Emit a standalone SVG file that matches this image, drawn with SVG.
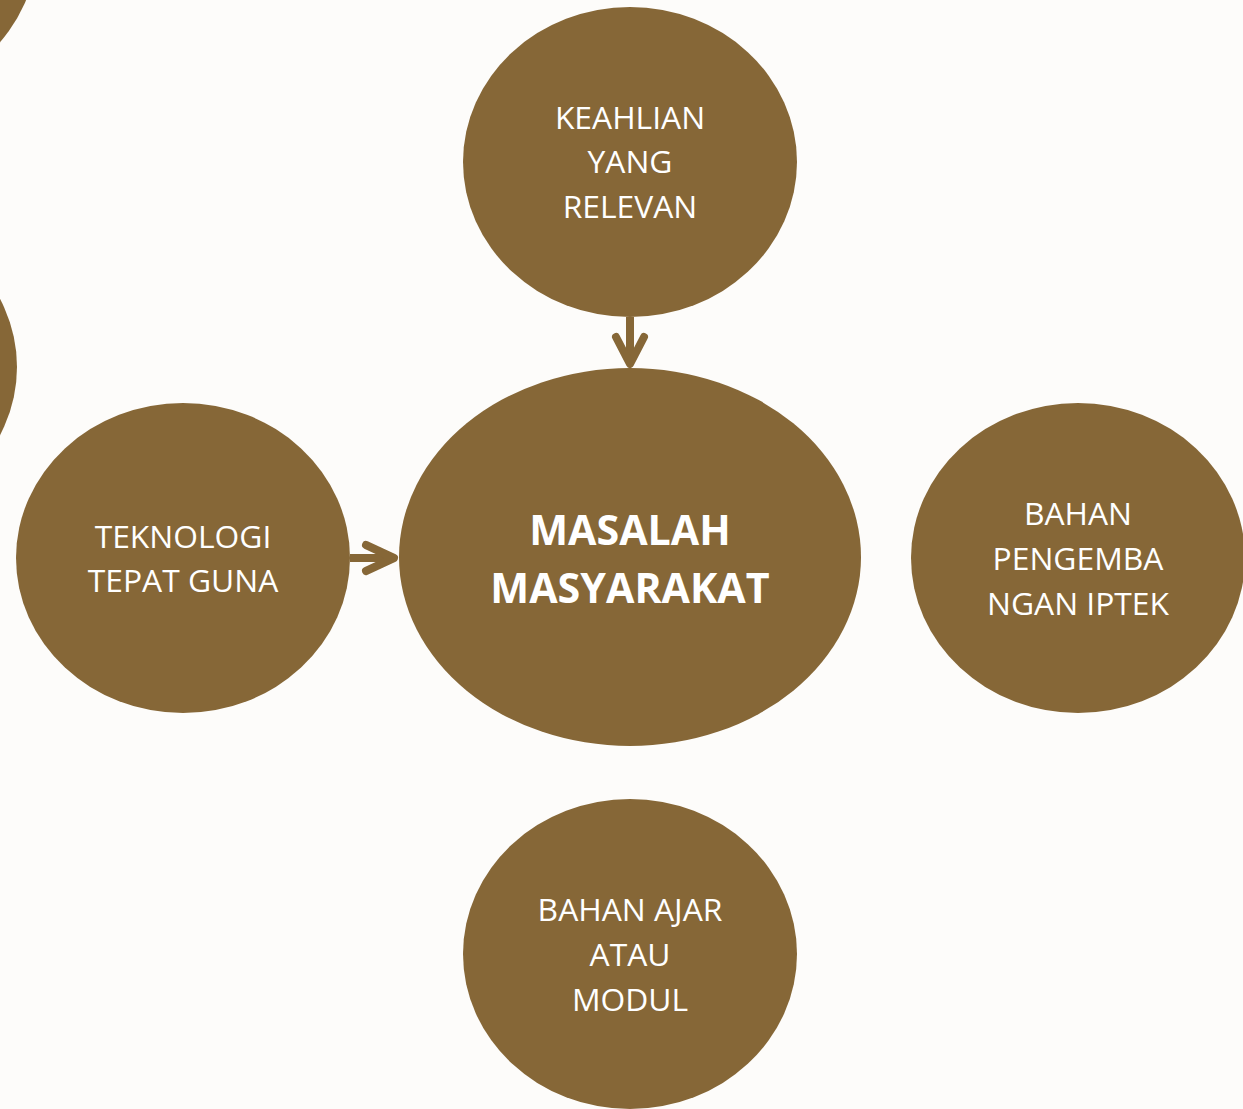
<svg xmlns="http://www.w3.org/2000/svg" width="1243" height="1109" viewBox="0 0 1243 1109">
<style>
.n{fill:#866737}
.t{fill:#ffffff;font-family:"Open Sans","Noto Sans",sans-serif;font-size:31.8px;text-anchor:middle}
.b{font-weight:bold;font-size:41.2px}
.c{fill:none;stroke:#866737;stroke-width:8;stroke-linecap:round;stroke-linejoin:round}
</style>
<rect width="1243" height="1109" fill="#fdfcfa"/>
<g id="partial-top-left"><ellipse class="n" cx="-130" cy="-55" rx="167" ry="155"/></g>
<g id="partial-left"><ellipse class="n" cx="-150" cy="367" rx="167" ry="155"/></g>
<g id="connectors">
<path class="c" d="M630 317V364" style="stroke-linecap:butt"/>
<path class="c" d="M616 337L630 364L644 337"/>
<path class="c" d="M350 558H394" style="stroke-linecap:butt"/>
<path class="c" d="M366 545L394 558L366 571"/>
</g>
<g id="keahlian"><ellipse class="n" cx="630" cy="162" rx="167" ry="155"/>
<text class="t"><tspan x="630" y="129">KEAHLIAN</tspan><tspan x="630" y="173">YANG</tspan><tspan x="630" y="218">RELEVAN</tspan></text></g>
<g id="masalah"><ellipse class="n" cx="630" cy="557" rx="231" ry="189"/>
<text class="t b"><tspan x="630" y="545">MASALAH</tspan><tspan x="630" y="603">MASYARAKAT</tspan></text></g>
<g id="teknologi"><ellipse class="n" cx="183" cy="558" rx="167" ry="155"/>
<text class="t"><tspan x="183" y="548">TEKNOLOGI</tspan><tspan x="183" y="592">TEPAT GUNA</tspan></text></g>
<g id="bahan-pengembangan"><ellipse class="n" cx="1078" cy="558" rx="167" ry="155"/>
<text class="t"><tspan x="1078" y="525">BAHAN</tspan><tspan x="1078" y="570">PENGEMBA</tspan><tspan x="1078" y="615">NGAN IPTEK</tspan></text></g>
<g id="bahan-ajar"><ellipse class="n" cx="630" cy="954" rx="167" ry="155"/>
<text class="t"><tspan x="630" y="921">BAHAN AJAR</tspan><tspan x="630" y="966">ATAU</tspan><tspan x="630" y="1011">MODUL</tspan></text></g>
</svg>
